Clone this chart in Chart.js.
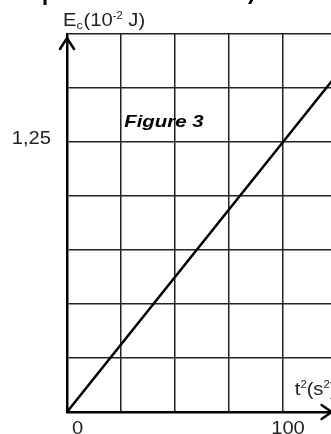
<!DOCTYPE html>
<html>
<head>
<meta charset="utf-8">
<script src="https://cdn.jsdelivr.net/npm/chart.js@4/dist/chart.umd.min.js"></script>
<style>
    html, body { margin: 0; padding: 0; background: #fff; overflow: hidden; }
    #wrap { width: 345px; height: 434px; }
</style>
</head>
<body>
<div id="wrap"><canvas id="ecChart" width="345" height="434"></canvas></div>
<script>
const t2Values = [0, 100, 125];          // t² (s²)
const ecValues = [0, 1.25, 1.5625];      // Ec (10^-2 J)
const xTickValues = [0, 100];
const xTickLabels = ['0', '100'];
const yTickValues = [1.25];
const yTickLabels = ['1,25'];
const figureLabel = 'Figure 3';

const FONT = '"Liberation Sans", Arial, sans-serif';
const SX = 1.12; // texte un peu étiré horizontalement comme sur le scan

function stretchedText(ctx, txt, x, y, font, align, sx) {
    sx = sx || SX;
    ctx.save();
    ctx.font = font;
    const w = ctx.measureText(txt).width * sx;
    let left = x;
    if (align === 'center') left = x - w / 2;
    if (align === 'right') left = x - w;
    ctx.translate(left, y);
    ctx.scale(sx, 1);
    ctx.textAlign = 'left';
    ctx.fillText(txt, 0, 0);
    ctx.restore();
    return w;
}

// Dessine les libellés, flèches et titres des axes
const annotations = {
    id: 'annotations',
    afterDraw(chart) {
        const ctx = chart.ctx;
        const xs = chart.scales.x;
        const ys = chart.scales.y;
        const x0 = xs.getPixelForValue(0);
        const y0 = ys.getPixelForValue(0);
        ctx.save();
        ctx.fillStyle = '#222';
        ctx.strokeStyle = '#000';
        ctx.textBaseline = 'alphabetic';

        // graduations
        const f = '18px ' + FONT;
        yTickValues.forEach((v, i) => {
            stretchedText(ctx, yTickLabels[i], x0 - 16, ys.getPixelForValue(v) + 2, f, 'right');
        });
        xTickValues.forEach((v, i) => {
            const px = xs.getPixelForValue(v) + 5;
            if (v === 0) stretchedText(ctx, xTickLabels[i], px, y0 + 22, f, 'left');
            else stretchedText(ctx, xTickLabels[i], px, y0 + 22, f, 'center');
        });

        // titre axe y : Ec(10^-2 J)
        let x = x0 - 4;
        let yb = ys.top - 8;
        x += stretchedText(ctx, 'E', x, yb, f, 'left');
        x += stretchedText(ctx, 'c', x, yb + 3, '11px ' + FONT, 'left');
        x += stretchedText(ctx, '(10', x + 1, yb, f, 'left') + 1;
        x += stretchedText(ctx, '-2', x, yb - 7, '10px ' + FONT, 'left');
        stretchedText(ctx, ' J)', x, yb, f, 'left');

        // titre axe x : t²(s²)
        x = xs.getPixelForValue(105) + 1;
        yb = y0 - 17;
        x += stretchedText(ctx, 't', x, yb, f, 'left');
        x += stretchedText(ctx, '2', x, yb - 7, '10px ' + FONT, 'left');
        x += stretchedText(ctx, '(s', x, yb, f, 'left');
        x += stretchedText(ctx, '2', x, yb - 7, '10px ' + FONT, 'left');
        stretchedText(ctx, ')', x, yb, f, 'left');

        // Figure 3
        ctx.fillStyle = '#000';
        stretchedText(ctx, figureLabel, xs.getPixelForValue(26.5), ys.getPixelForValue(1.32),
            'italic bold 17px ' + FONT, 'left', 1.2);

        // flèche axe y
        ctx.lineWidth = 2.5;
        ctx.lineCap = 'round';
        ctx.beginPath();
        ctx.moveTo(x0 - 7, ys.top + 15);
        ctx.lineTo(x0, ys.top + 4);
        ctx.lineTo(x0 + 7, ys.top + 15);
        ctx.stroke();

        // flèche axe x
        const tip = xs.getPixelForValue(122.5);
        ctx.beginPath();
        ctx.moveTo(tip - 10, y0 - 7);
        ctx.lineTo(tip, y0);
        ctx.lineTo(tip - 10, y0 + 7);
        ctx.stroke();

        // bout de légende coupé en haut
        ctx.font = 'bold 22px ' + FONT;
        ctx.fillText('p', 42, 0);
        ctx.fillText(')', 248, -1);
        ctx.restore();
    }
};

new Chart(document.getElementById('ecChart'), {
    type: 'line',
    data: {
        datasets: [{
            data: t2Values.map((t, i) => ({ x: t, y: ecValues[i] })),
            borderColor: '#000',
            borderWidth: 2.5,
            pointRadius: 0,
            fill: false,
            tension: 0
        }]
    },
    options: {
        responsive: false,
        animation: false,
        devicePixelRatio: 1,
        layout: { padding: { left: 67, top: 34, right: 8, bottom: 22 } },
        plugins: { legend: { display: false }, tooltip: { enabled: false } },
        scales: {
            x: {
                type: 'linear',
                min: 0,
                max: 125,
                ticks: { display: false, stepSize: 25 },
                grid: { color: '#222', lineWidth: 1.5, drawTicks: false },
                border: { color: '#000', width: 2.5 }
            },
            y: {
                type: 'linear',
                min: 0,
                max: 1.75,
                ticks: { display: false, stepSize: 0.25 },
                grid: { color: '#222', lineWidth: 1.5, drawTicks: false },
                border: { color: '#000', width: 2.5 }
            }
        }
    },
    plugins: [annotations]
});
</script>
</body>
</html>
